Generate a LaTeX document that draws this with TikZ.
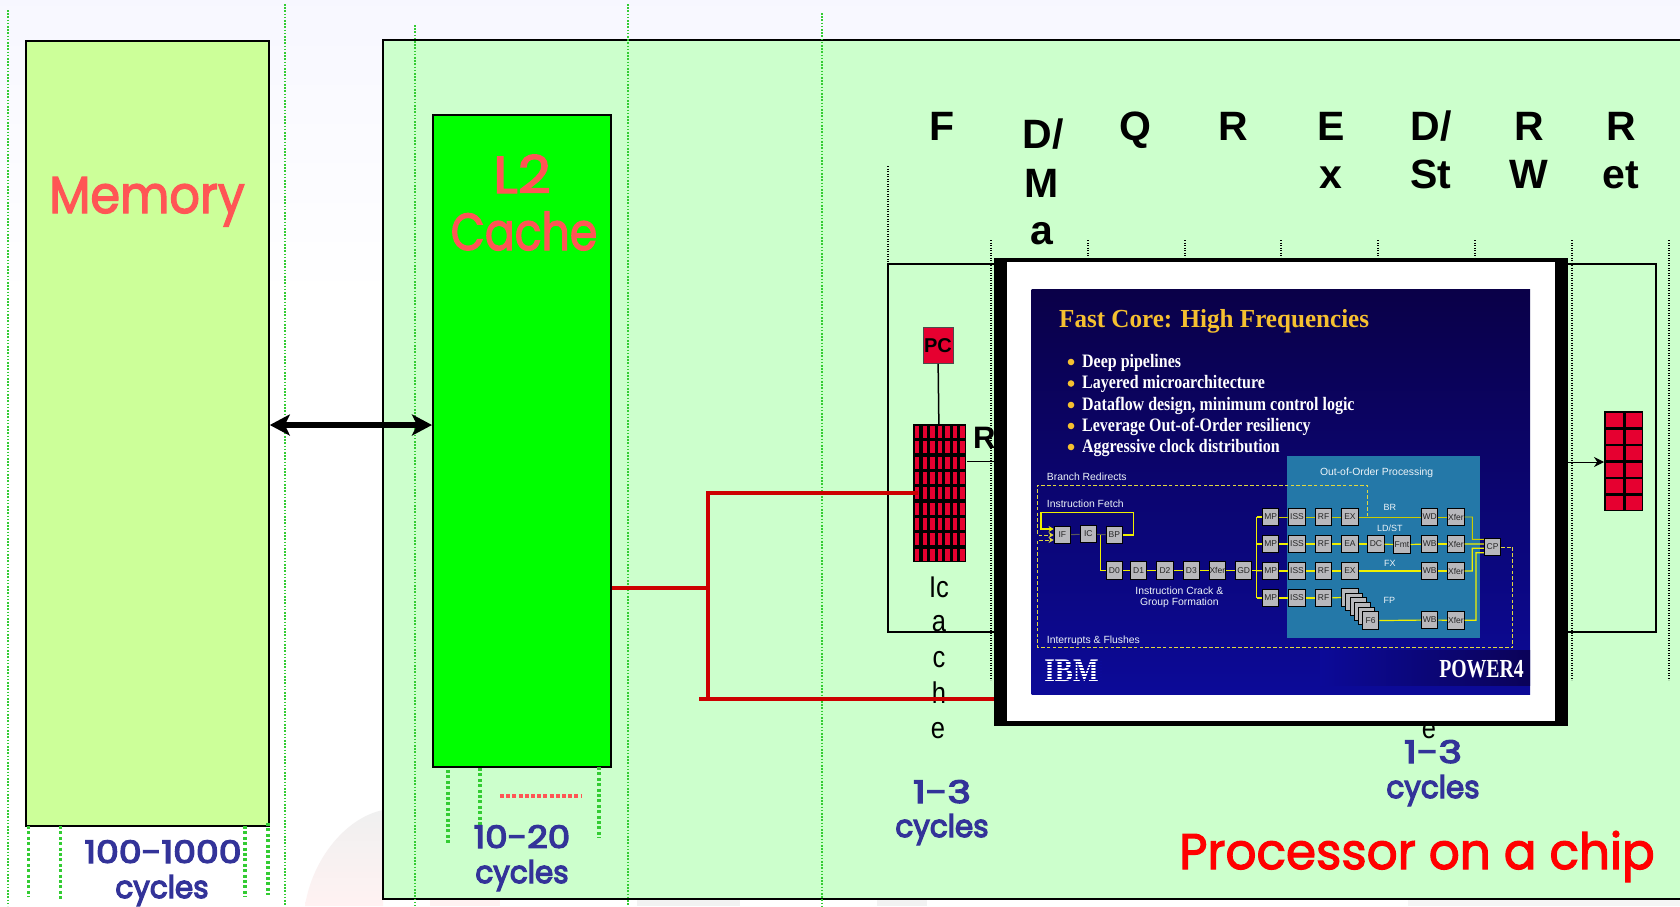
\documentclass[tikz,border=0pt]{standalone}
\usepackage{graphicx}
\usepackage{fontspec}
\setmainfont{Liberation Sans}
\newfontfamily\comicfont[FakeBold=2.5]{Poppins}
\newfontfamily\navyfont[FakeBold=4]{Poppins}
\newfontfamily\slidefont{Liberation Serif}
\usetikzlibrary{arrows.meta}
\newcommand\fs[1]{\fontsize{#1}{#1}\selectfont}
\definecolor{memfill}{HTML}{CCFF99}
\definecolor{chipfill}{HTML}{CCFFCC}
\definecolor{salmon}{HTML}{FF5555}
\definecolor{navy}{HTML}{333399}
\definecolor{cellred}{HTML}{E60030}
\definecolor{dashgreen}{HTML}{33CC33}
\definecolor{wirered}{HTML}{CC0000}
\definecolor{slidetop}{HTML}{0A0048}
\definecolor{slidebot}{HTML}{0C0A98}
\definecolor{teal}{HTML}{2478A8}
\definecolor{gold}{HTML}{F5C030}
\definecolor{yl}{HTML}{F0F000}
\definecolor{ydash}{HTML}{E0D840}
\definecolor{blockgrey}{HTML}{B8B8BC}
\tikzset{
  x=1pt,y=-1pt,
  boxnode/.style={draw=black,line width=1.8pt,inner sep=0pt,anchor=north west},
  thingreen/.style={draw=dashgreen,line width=1.3pt,dash pattern=on 1.6pt off 1.6pt},
  thickgreen/.style={draw=dashgreen,line width=3.6pt,dash pattern=on 3pt off 2.4pt},
  blackdots/.style={draw=black,line width=1.3pt,dash pattern=on 1.2pt off 1.3pt},
  wire/.style={draw=wirered,line width=4pt},
  comiclabel/.style={anchor=base,text=navy,inner sep=0pt,font=\navyfont\fs{31}},
  stage/.style={anchor=base,text=black,font=\bfseries\fs{41}},
  icachetext/.style={anchor=base,text=black,inner sep=0pt,font=\fs{30}},
  block/.style={draw=black,line width=1pt,fill=blockgrey,inner sep=0pt,minimum width=16.5pt,minimum height=17.5pt,text=black!85,font=\fs{8.5}},
  slidetext/.style={anchor=base west,inner sep=0pt,text=white,font=\slidefont\bfseries\fs{19}},
  flowtext/.style={text=white!92!teal,inner sep=0pt,font=\fs{10.4}},
  yline/.style={draw=yl,line width=1.2pt},
  ythin/.style={draw=yl!85!black,line width=0.9pt},
  ygrey/.style={draw=black!65,line width=1pt},
  ydashed/.style={draw=ydash,line width=1pt,dash pattern=on 3.6pt off 2.2pt},
  yarrow/.style={-{Stealth[length=5pt,width=6pt]}},
}
\newcommand\blk[4]{\node[block] (#1) at (#2,#3) {#4};}
\newcommand\lett[1]{\scalebox{.85}[1]{#1}}
\begin{document}
\begin{tikzpicture}
\useasboundingbox (0,0) rectangle (1680,906);
\fill[white] (0,0) rectangle (1680,906);
\shade[top color=blue!3,bottom color=white] (0,0) rectangle (1680,300);
% faint watermark
\shade[top color=black!6,bottom color=red!5] (305,906) .. controls (312,860) and (345,818) .. (383,810) -- (383,906) -- cycle;
\fill[red!5] (430,899) rectangle (500,906);
\fill[black!5] (637,899) rectangle (740,906);
\fill[black!5] (877,899) rectangle (927,906);
\fill[black!4] (1408,899) rectangle (1680,906);
% big boxes
\fill[chipfill] (383,40) rectangle (1680,899);
\draw[black,line width=1.8pt] (1680,40) -- (383,40) -- (383,899) -- (1680,899);
\node[boxnode,fill=memfill,minimum width=243pt,minimum height=785pt] (mem) at (25,40) {};
\foreach \xx/\yy in {8/10,285/4,415/25,628/4,822/13}
  \draw[thingreen] (\xx,\yy) -- (\xx,906);
\node[boxnode,fill=green,minimum width=178pt,minimum height=652pt] (ltwo) at (432,114) {};
% labels of the outer boxes
\node[anchor=base,inner sep=0pt,text=salmon,font=\comicfont\fs{52}] (memlabel) at (147,213) {\scalebox{.92}[1]{Memory}};
\node[anchor=base,inner sep=0pt,text=salmon,font=\comicfont\fs{52}] (ltwolabel) at (522,193) {\scalebox{1.1}[1]{L2}};
\node[anchor=base,inner sep=0pt,text=salmon,font=\comicfont\fs{52}] (cachelabel) at (524,250) {\scalebox{.85}[1]{Cache}};
% thick dashes
\foreach \xx/\ya/\yb in {28.4/826/897,60.5/826/899,245/826/897,268/823/895,448/770/843,480/768/825,599/767/838}
  \draw[thickgreen] (\xx,\ya) -- (\xx,\yb);
\draw[draw=salmon,line width=4pt,dash pattern=on 4pt off 2.2pt] (500,796) -- (581,796);
% cycle labels
\node[comiclabel] (ca) at (163,863) {\scalebox{1.17}[1]{100-1000}};
\node[comiclabel] (cb) at (162,898) {\scalebox{.95}[1]{cycles}};
\node[comiclabel] (cc) at (522,848) {\scalebox{1.15}[1]{10-20}};
\node[comiclabel] (cd) at (522,883) {\scalebox{.95}[1]{cycles}};
\node[comiclabel] (ce) at (942,803) {\scalebox{1.28}[1]{1-3}};
\node[comiclabel] (cf) at (942,837) {\scalebox{.95}[1]{cycles}};
\node[comiclabel] (cg) at (1433,763) {\scalebox{1.28}[1]{1-3}};
\node[comiclabel] (ch) at (1433,798) {\scalebox{.95}[1]{cycles}};
\node[anchor=base,inner sep=0pt,text=red,font=\comicfont\fs{50}] (proc) at (1417,869) {\scalebox{.97}[1]{Processor on a chip}};
% arrow memory / L2
\draw[black,line width=5.5pt,{Stealth[length=20pt,width=21pt,inset=5pt]}-{Stealth[length=20pt,width=21pt,inset=5pt]}] (mem.east |- 0,425) -- (ltwo.west |- 0,425);
% pipeline frame
\draw[black,line width=1.5pt] (888,264) rectangle (1656,632);
\draw[blackdots] (888,166) -- (888,632);
\foreach \xx in {991,1572,1669} \draw[blackdots] (\xx,240) -- (\xx,680);
\foreach \xx in {1088,1185,1281,1378,1475} \draw[blackdots] (\xx,240) -- (\xx,258);
% stage labels
\node[stage] (sf) at (942,140) {F};
\node[stage] (sd) at (1043,148) {D/};
\node[stage] (sm) at (1042,197) {M};
\node[stage] (sa) at (1042,244) {a};
\node[stage] (sq) at (1135,140) {Q};
\node[stage] (sr) at (1233,140) {R};
\node[stage] (se) at (1331,140) {E};
\node[stage] (sx) at (1331,188) {x};
\node[stage] (sdb) at (1431,140) {D/};
\node[stage] (sst) at (1431,188) {St};
\node[stage] (srb) at (1529,140) {R};
\node[stage] (sw) at (1529,188) {W};
\node[stage] (src) at (1621,140) {R};
\node[stage] (set) at (1621,188) {et};
% PC and I-cache
\node[draw=black!70,line width=0.8pt,fill=cellred,inner sep=0pt,minimum width=30pt,minimum height=36pt,anchor=north west,text=black,font=\bfseries\fs{20}] (pc) at (922.5,327) {PC};
\node[fill=black,inner sep=0pt,minimum width=53pt,minimum height=138pt,anchor=north west] (icg) at (913,424) {};
\foreach \r in {0,...,8}\foreach \c in {0,...,6}
  \fill[cellred] (915+7.55*\c,426+15.35*\r) rectangle ++(4.4,12);
\draw[black,line width=1.5pt] (pc) -- (icg);
\node[anchor=base west,inner sep=0pt,text=black,font=\bfseries\fs{31}] (hiddenr) at (973,448) {R};
\coordinate (rstub) at (994,461);
\draw[black,line width=1pt] (967,461) -- (rstub);
\node[icachetext] (ia) at (939,597) {\lett{Ic}};
\node[icachetext] (ib) at (939,631) {\lett{a}};
\node[icachetext] (ic) at (939,667) {\lett{c}};
\node[icachetext] (id) at (939,703) {\lett{h}};
\node[icachetext] (ie) at (938,738) {\lett{e}};
\node[icachetext] (ifx) at (1429,738) {\lett{e}};
% red wires
\coordinate (wa) at (708,588);
\coordinate (wb) at (708,493);
\coordinate (wc) at (918,493);
\coordinate (wd) at (699,699);
\coordinate (we) at (995,699);
\draw[wire] (ltwo.east |- wa) -- (wa);
\draw[wire] (wb) -- (708,699);
\draw[wire] (706,493) -- (wc);
\draw[wire] (wd) -- (we);
% register grid on the right
\node[fill=black,inner sep=0pt,minimum width=39pt,minimum height=100pt,anchor=north west] (rob) at (1604,411) {};
\foreach \r in {0,...,5}\foreach \c in {0,1}
  \fill[cellred] (1606+19.5*\c,413+16.6*\r) rectangle ++(16.5,14);
% slide
\node[draw=black,line width=0pt,fill=black,inner sep=0pt,minimum width=573pt,minimum height=467pt,anchor=north west] (chip) at (994,258) {};
\fill[white] (1007,262) rectangle (1555,721);
\draw[black,line width=1pt,-{Stealth[length=10pt,width=10pt]}] (chip.east |- 0,462) -- (rob.west |- 0,462);
\shade[top color=slidetop,bottom color=slidebot] (1031.5,289) rectangle (1530,694);
\shade[left color=slidebot,right color=slidetop!80!slidebot] (1320,650) rectangle (1530,685);
\node[anchor=base west,inner sep=0pt,text=gold,font=\slidefont\bfseries\fs{26}] (title) at (1059,327) {\scalebox{.965}[1]{Fast Core: High Frequencies}};
\foreach \yy/\tx in {367/Deep pipelines,388.5/Layered microarchitecture,410/{Dataflow design, minimum control logic},431/Leverage Out-of-Order resiliency,452/Aggressive clock distribution}{
  \node[slidetext] at (1082,\yy) {\scalebox{.84}[1]{\tx}};
  \fill[gold] (1071,\yy-5) circle (3.3);
}
\fill[teal] (1286.7,456) rectangle (1480,638);
\node[anchor=base east,inner sep=0pt,text=white,font=\slidefont\bfseries\fs{26}] (power) at (1524,677) {\scalebox{.76}[1]{POWER4}};
\node[text=white,font=\slidefont\bfseries\fs{33}] (ibm) at (1071.5,671) {\scalebox{.82}[1]{IBM}};
\foreach \yy in {661,664,667,670,673,676,679}
  \draw[slidebot,line width=1pt] (1042,\yy) -- (1102,\yy);
% flow diagram, in the coordinates of a 3x enlargement
\begin{scope}[shift={(1020,450)},x=0.3333pt,y=-0.3333pt]
\node[flowtext,anchor=center] (toop) at (1070,68) {Out-of-Order Processing};
\node[flowtext,anchor=west] (tbr) at (80,80) {Branch Redirects};
\node[flowtext,anchor=west] (tif) at (80,162) {Instruction Fetch};
\node[flowtext,anchor=west] (tint) at (80,572) {Interrupts \& Flushes};
\node[flowtext,anchor=center] (tcr) at (478,421) {Instruction Crack \&};
\node[flowtext,anchor=center] (tgf) at (478,459) {Group Formation};
\node[flowtext,anchor=center,font=\fs{9}] (lbr) at (1110,172) {BR};
\node[flowtext,anchor=center,font=\fs{9}] (lld) at (1110,236) {LD/ST};
\node[flowtext,anchor=center,font=\fs{9}] (lfx) at (1110,340) {FX};
\node[flowtext,anchor=center,font=\fs{9}] (lfp) at (1108,450) {FP};
\blk{if}{127}{255}{IF}\blk{ic}{205}{252}{IC}\blk{bp}{283}{255}{BP}
\blk{da}{283}{362}{D0}\blk{db}{356}{362}{D1}\blk{dc}{435}{362}{D2}\blk{dd}{514}{362}{D3}\blk{dx}{592}{362}{Xfer}\blk{gd}{671}{362}{GD}
\blk{ma}{752}{201}{MP}\blk{mb}{752}{282}{MP}\blk{mc}{752}{363}{MP}\blk{md}{752}{444}{MP}
\blk{sa}{831}{201}{ISS}\blk{sb}{831}{282}{ISS}\blk{sc}{831}{363}{ISS}\blk{sd}{831}{444}{ISS}
\blk{ra}{911}{201}{RF}\blk{rb}{911}{282}{RF}\blk{rc}{911}{363}{RF}\blk{rd}{911}{444}{RF}
\blk{ea}{990}{201}{EX}\blk{eb}{990}{282}{EA}\blk{ec}{990}{363}{EX}
\blk{dcb}{1068}{282}{DC}\blk{fmt}{1146}{284}{Fmt}
\blk{wa}{1229}{201}{WD}\blk{wbb}{1229}{282}{WB}\blk{wcc}{1229}{363}{WB}\blk{wdd}{1229}{510}{WB}
\blk{xa}{1308}{201}{Xfer}\blk{xb}{1308}{282}{Xfer}\blk{xc}{1308}{363}{Xfer}\blk{xd}{1308}{511}{Xfer}
\blk{cp}{1418}{291}{CP}
\blk{fa}{990}{442}{}\blk{fbb}{1002}{456}{}\blk{fc}{1015}{470}{}\blk{fd}{1027}{484}{}\blk{fe}{1040}{498}{}\blk{ff}{1052}{512}{F6}
% named bends
\coordinate (bust) at (710,201); \coordinate (busb) at (710,444);
\coordinate (busm) at (710,282); \coordinate (busn) at (710,362);
\coordinate (ja) at (1357,268); \coordinate (jc) at (1357,295); \coordinate (jd) at (1368,308);
\coordinate (la) at (340,187); \coordinate (lb) at (63,187);
\coordinate (dtap) at (242,255);
\coordinate (rua) at (1042,199); \coordinate (rub) at (1042,105); \coordinate (ruc) at (53,105);
\coordinate (ina) at (1478,593); \coordinate (inb) at (53,593);
% fetch
\draw[ygrey] (if) -- (ic); \draw[ygrey] (ic) -- (bp);
\draw[yline,yarrow] (bp.east) -| (la) -- (lb) |- ([yshift=6pt]if.west);
\draw[yline] (dtap) |- (da.west);
\draw[yline] (da) -- (db); \draw[yline] (db) -- (dc); \draw[yline] (dc) -- (dd); \draw[yline] (dd) -- (dx); \draw[yline] (dx) -- (gd); \draw[yline] (gd) -- (busn);
\draw[yline] (bust) -- (busb);
\draw[yline] (bust) -- (ma); \draw[yline] (busm) -- (mb); \draw[yline] (busn) -- (mc); \draw[yline] (busb) -- (md);
% rows
\draw[ythin] (ma) -- (sa); \draw[ythin] (sa) -- (ra); \draw[ythin] (ra) -- (ea); \draw[ythin] (ea) -- (wa); \draw[ythin] (wa) -- (xa);
\draw[ythin] (xa.east) -| (ja) -- ([yshift=7.7pt]cp.west);
\draw[yline] (mb) -- (sb); \draw[yline] (sb) -- (rb); \draw[yline] (rb) -- (eb); \draw[yline] (eb) -- (dcb); \draw[yline] (dcb) -- (fmt); \draw[yline] (fmt) -- (wbb); \draw[yline] (wbb) -- (xb);
\draw[yline] (xb.east) -- ([yshift=3pt]cp.west);
\draw[yline] (mc) -- (sc); \draw[yline] (sc) -- (rc); \draw[yline] (rc) -- (ec); \draw[yline] (ec) -- (wcc); \draw[yline] (wcc) -- (xc);
\draw[yline] (xc.east) -| (jc) -- ([yshift=-1.3pt]cp.west);
\draw[yline] (md) -- (sd); \draw[yline] (sd) -- (rd); \draw[yline] (rd) -- (fa); \draw[yline] (ff) -- (wdd); \draw[yline] (wdd) -- (xd);
\draw[yline] (xd.east) -| (jd) -- ([yshift=-5.7pt]cp.west);
% dashed feedback
\draw[ydashed,yarrow] (rua) -- (rub) -- (ruc) |- (if.west);
\draw[ydashed,yarrow] (cp.east) -| (ina) -- (inb) |- ([yshift=-5pt]if.west);
\end{scope}
\end{tikzpicture}
\end{document}
